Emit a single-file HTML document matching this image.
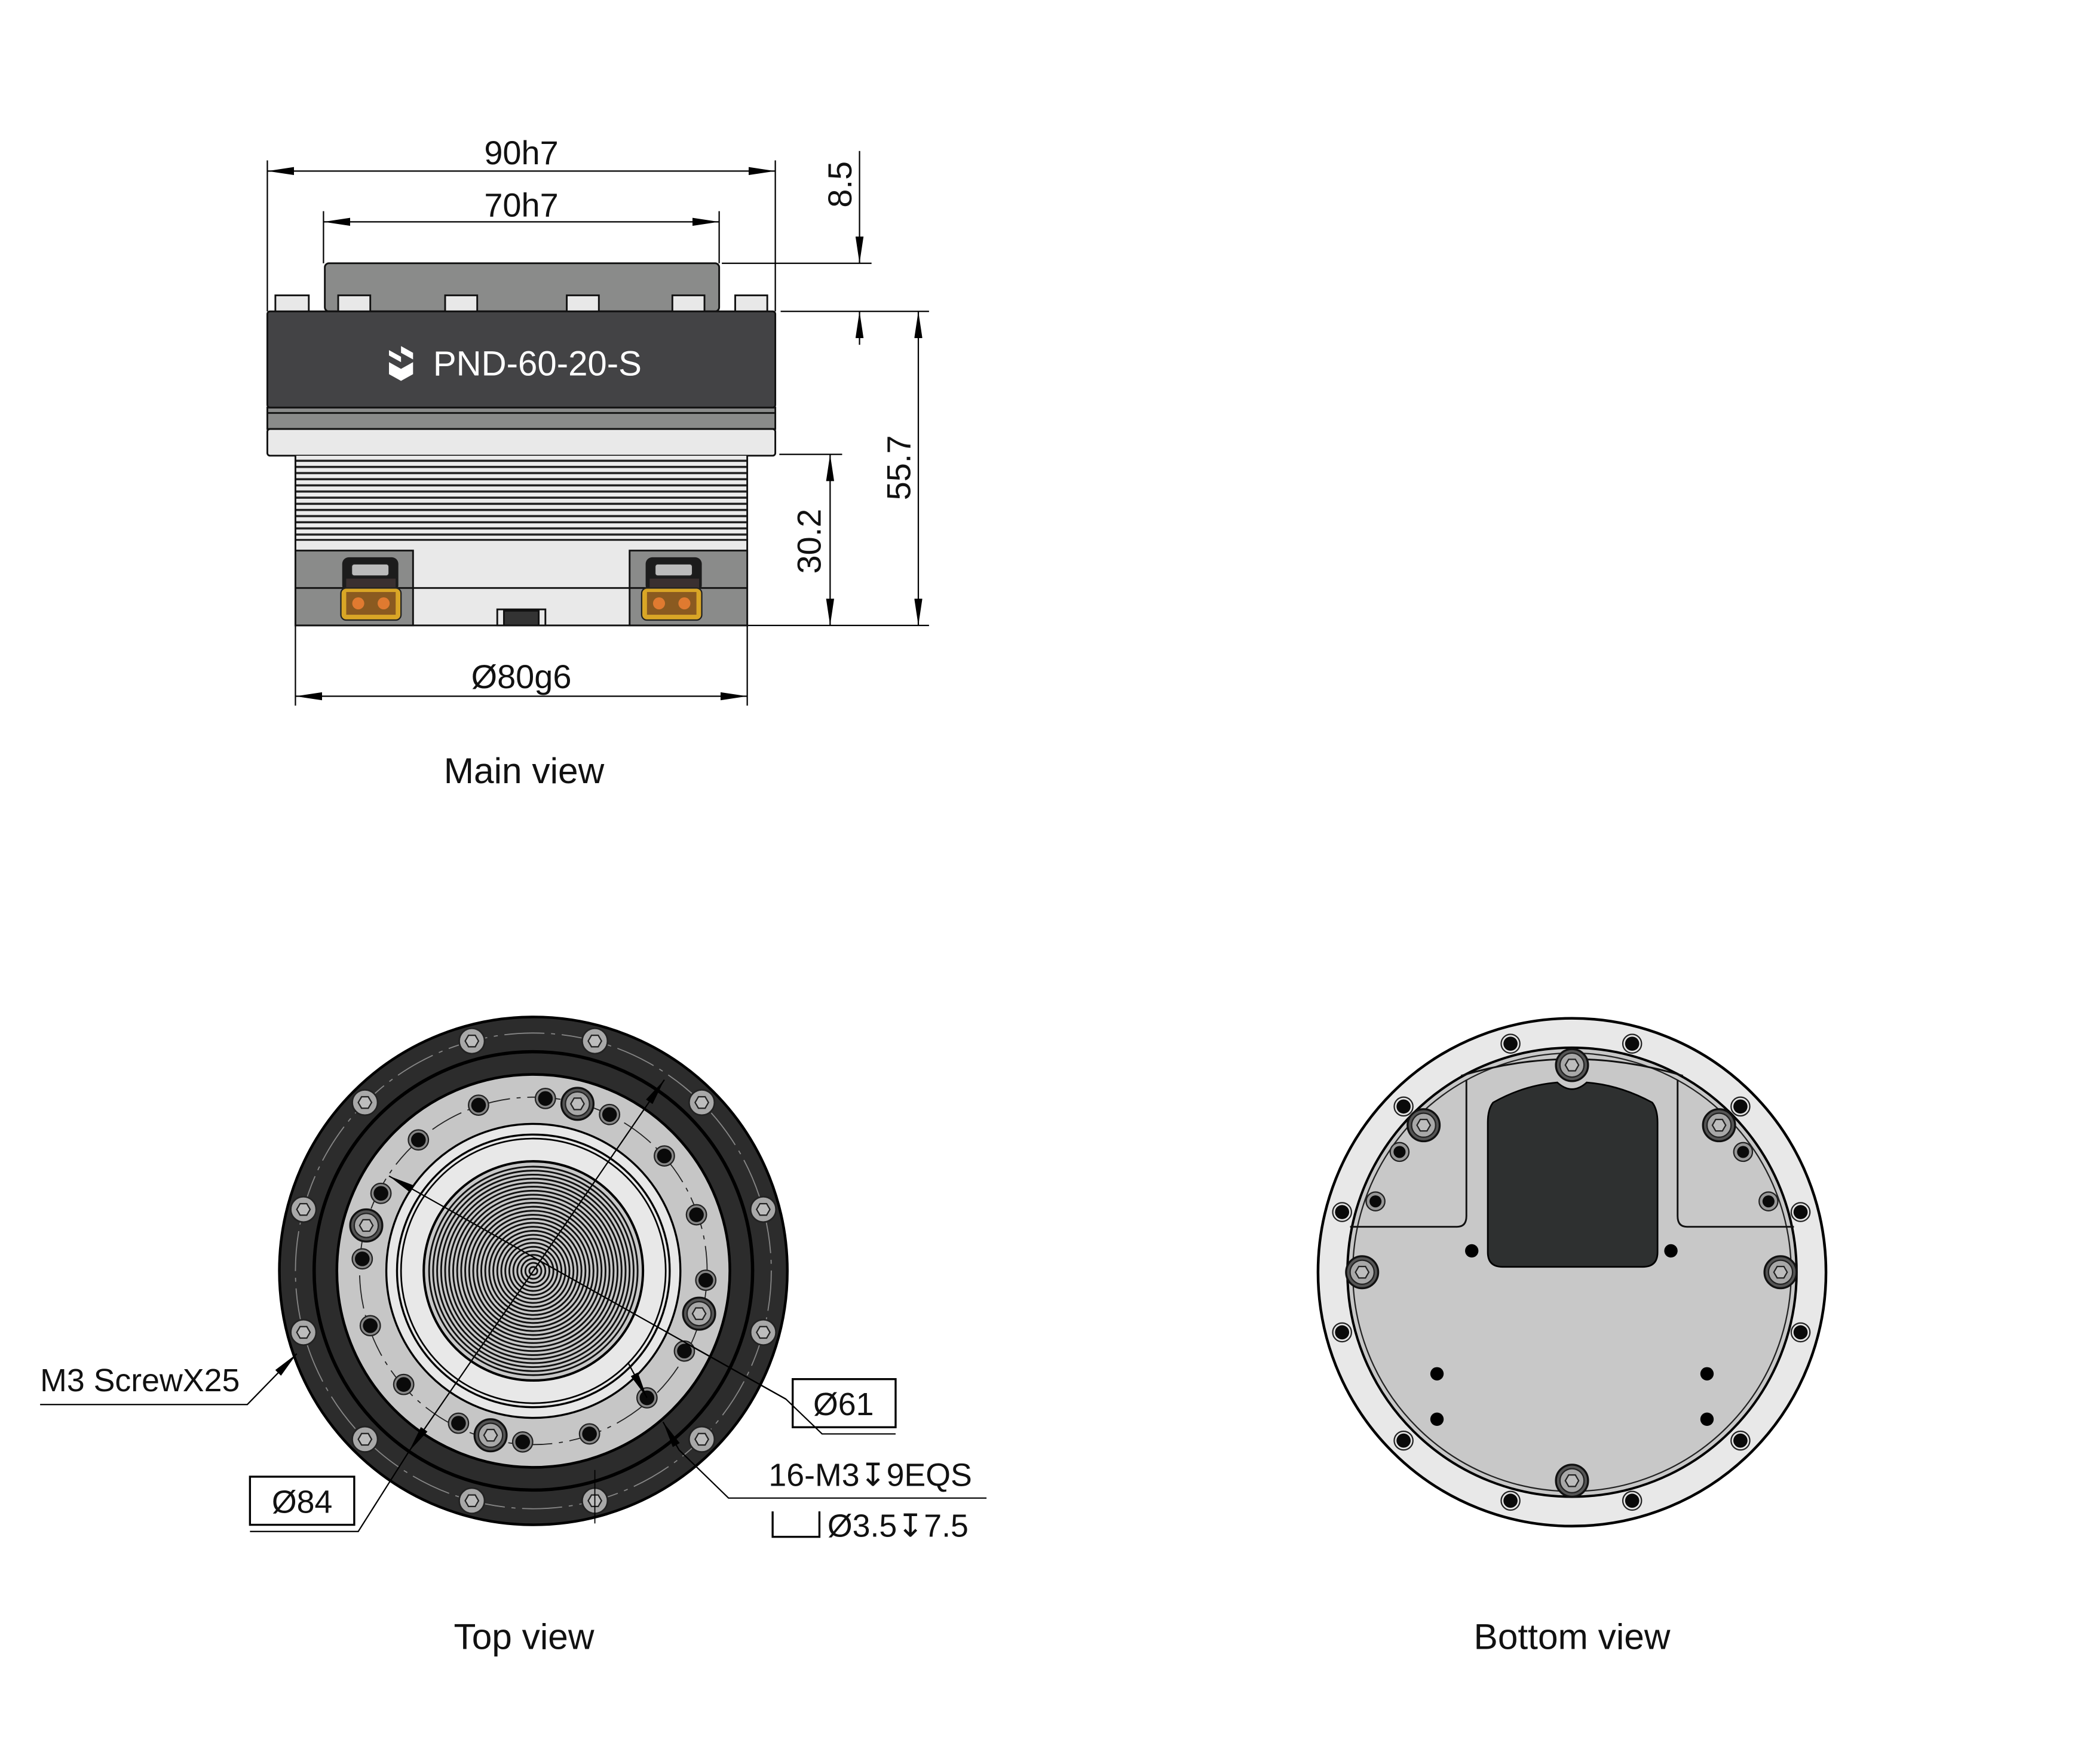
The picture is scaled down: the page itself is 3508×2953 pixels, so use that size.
<!DOCTYPE html>
<html><head><meta charset="utf-8"><style>
html,body{margin:0;padding:0;background:#fff;}
svg{display:block}
text{font-family:"Liberation Sans",sans-serif;fill:#111}
</style></head><body>
<svg width="3508" height="2953" viewBox="0 0 1568 1320" preserveAspectRatio="none" xmlns="http://www.w3.org/2000/svg">
<defs>
<marker id="a" viewBox="0 0 20 6" refX="20" refY="3" markerWidth="20" markerHeight="6" markerUnits="userSpaceOnUse" orient="auto-start-reverse"><path d="M0,0 L20,3 L0,6z" fill="#000"/></marker>
<pattern id="rib" x="0" y="341" width="10" height="4.6" patternUnits="userSpaceOnUse"><rect width="10" height="4.6" fill="#ececec"/><rect y="3" width="10" height="1.6" fill="#222"/></pattern>
<g id="bolt"><circle r="9.5" fill="#a8a8a8" stroke="#222" stroke-width="1.2"/><polygon points="5,0 2.5,4.3 -2.5,4.3 -5,0 -2.5,-4.3 2.5,-4.3" fill="#bdbdbd" stroke="#222" stroke-width="1"/></g>
<g id="bigbolt"><circle r="12" fill="#555" stroke="#111" stroke-width="1.5"/><circle r="9" fill="#a8a8a8" stroke="#222" stroke-width="1"/><polygon points="5,0 2.5,4.3 -2.5,4.3 -5,0 -2.5,-4.3 2.5,-4.3" fill="#bdbdbd" stroke="#222" stroke-width="1"/></g>
<g id="hole"><circle r="7.5" fill="#888" stroke="#222" stroke-width="1"/><circle r="5.5" fill="#0a0a0a"/></g>
<g id="bh"><circle r="7" fill="#e6e6e6" stroke="#222" stroke-width="1"/><circle r="5.3" fill="#0a0a0a"/></g>
<g id="bh2"><circle r="7" fill="#999" stroke="#222" stroke-width="1"/><circle r="4.5" fill="#0a0a0a"/></g>
</defs>

<!-- MAIN VIEW -->
<g stroke="#000" stroke-width="1" fill="none">
<line x1="200" y1="120" x2="200" y2="233"/><line x1="580" y1="120" x2="580" y2="233"/>
<line x1="242" y1="158" x2="242" y2="197"/><line x1="538" y1="158" x2="538" y2="197"/>
<line x1="200" y1="128" x2="580" y2="128" marker-start="url(#a)" marker-end="url(#a)"/>
<line x1="242" y1="166" x2="538" y2="166" marker-start="url(#a)" marker-end="url(#a)"/>
<line x1="540" y1="197" x2="652" y2="197"/><line x1="584" y1="233" x2="695" y2="233"/>
<line x1="583" y1="340" x2="630" y2="340"/><line x1="559" y1="468" x2="695" y2="468"/>
<line x1="643" y1="113" x2="643" y2="197" marker-end="url(#a)"/>
<line x1="643" y1="258" x2="643" y2="233" marker-end="url(#a)"/>
<line x1="687" y1="233" x2="687" y2="468" marker-start="url(#a)" marker-end="url(#a)"/>
<line x1="621" y1="340" x2="621" y2="468" marker-start="url(#a)" marker-end="url(#a)"/>
<line x1="221" y1="468" x2="221" y2="528"/><line x1="559" y1="468" x2="559" y2="528"/>
<line x1="221" y1="521" x2="559" y2="521" marker-start="url(#a)" marker-end="url(#a)"/>
</g>
<text x="390" y="123" font-size="25" text-anchor="middle">90h7</text>
<text x="390" y="162" font-size="25" text-anchor="middle">70h7</text>
<text transform="translate(637,138) rotate(-90)" font-size="25" text-anchor="middle">8.5</text>
<text transform="translate(681,350) rotate(-90)" font-size="25" text-anchor="middle">55.7</text>
<text transform="translate(614,405) rotate(-90)" font-size="25" text-anchor="middle">30.2</text>
<text x="390" y="515" font-size="25" text-anchor="middle">Ø80g6</text>
<text x="392" y="586" font-size="27" text-anchor="middle">Main view</text>

<g stroke="#111" stroke-width="1.3">
<rect x="243" y="197" width="295" height="36" rx="3" fill="#8a8b8a"/>
<rect x="206" y="221" width="25" height="13" fill="#e8e8e8"/>
<rect x="253" y="221" width="24" height="13" fill="#e8e8e8"/>
<rect x="333" y="221" width="24" height="13" fill="#e8e8e8"/>
<rect x="424" y="221" width="24" height="13" fill="#e8e8e8"/>
<rect x="503" y="221" width="24" height="13" fill="#e8e8e8"/>
<rect x="550" y="221" width="24" height="13" fill="#e8e8e8"/>
<rect x="200" y="233" width="380" height="72" rx="2" fill="#434345"/>
<rect x="200" y="305" width="380" height="16" fill="#8a8b8a"/>
<line x1="200" y1="309" x2="580" y2="309"/>
<rect x="200" y="321" width="380" height="20" rx="2" fill="#e9e9e9"/>
<rect x="221" y="341" width="338" height="63" fill="url(#rib)" stroke="none"/>
<line x1="221" y1="341" x2="221" y2="404"/><line x1="559" y1="341" x2="559" y2="404"/>
<rect x="221" y="404" width="338" height="64" fill="#e9e9e9"/>
<rect x="221" y="412" width="88" height="56" fill="#8a8b8a"/>
<rect x="471" y="412" width="88" height="56" fill="#8a8b8a"/>
<line x1="221" y1="440" x2="559" y2="440"/>
<rect x="372" y="456" width="36" height="12" fill="#e9e9e9"/>
<rect x="377" y="457" width="26" height="11" fill="#333"/>
</g>
<g>
<rect x="256" y="417" width="42" height="26" rx="5" fill="#1c1c1c"/>
<rect x="263" y="422" width="28" height="9" rx="2" fill="#bbb" stroke="#222" stroke-width="0.8"/>
<rect x="259" y="433" width="37" height="8" fill="#3a3030"/>
<rect x="255" y="440" width="45" height="24" rx="4" fill="#d9a626" stroke="#222" stroke-width="1"/>
<rect x="259" y="443" width="37" height="17" fill="#8a5a20"/>
<circle cx="268" cy="451.5" r="4.5" fill="#e07a30"/><circle cx="287" cy="451.5" r="4.5" fill="#e07a30"/>
<rect x="483" y="417" width="42" height="26" rx="5" fill="#1c1c1c"/>
<rect x="490" y="422" width="28" height="9" rx="2" fill="#bbb" stroke="#222" stroke-width="0.8"/>
<rect x="486" y="433" width="37" height="8" fill="#3a3030"/>
<rect x="480" y="440" width="45" height="24" rx="4" fill="#d9a626" stroke="#222" stroke-width="1"/>
<rect x="484" y="443" width="37" height="17" fill="#8a5a20"/>
<circle cx="493" cy="451.5" r="4.5" fill="#e07a30"/><circle cx="512" cy="451.5" r="4.5" fill="#e07a30"/>
</g>
<path d="M300,259 l9,5 v5 l-9,-5z M291,266 l9,5 v-4 l-9,-5z M291,271 l9,5 l9,-5 v9 l-9,5 l-9,-5z" fill="#fff"/>
<text x="324" y="281" font-size="26" fill="#fff" style="fill:#fff">PND-60-20-S</text>

<!-- TOP VIEW -->
<g>
<circle cx="399" cy="951" r="190" fill="#2c2c2c" stroke="#000" stroke-width="2"/>
<circle cx="399" cy="951" r="164" fill="none" stroke="#000" stroke-width="2.5"/>
<circle cx="399" cy="951" r="178" fill="none" stroke="#888" stroke-width="0.8" stroke-dasharray="30 5 3 5"/>
<circle cx="399" cy="951" r="147" fill="#c6c6c6" stroke="#000" stroke-width="2"/>
<circle cx="399" cy="951" r="130" fill="none" stroke="#222" stroke-width="0.8" stroke-dasharray="25 5 3 5"/>
<circle cx="399" cy="951" r="110" fill="#e8e8e8" stroke="#000" stroke-width="1.5"/>
<circle cx="399" cy="951" r="102" fill="none" stroke="#000" stroke-width="1.5"/>
<circle cx="399" cy="951" r="99" fill="none" stroke="#000" stroke-width="1.2"/>
<circle cx="399" cy="951" r="82" fill="#c8c8c8" stroke="#000" stroke-width="1.8"/>
<g fill="none" stroke="#111" stroke-width="1.3">
<circle cx="399" cy="951" r="78"/><circle cx="399" cy="951" r="75"/><circle cx="399" cy="951" r="72"/><circle cx="399" cy="951" r="69"/><circle cx="399" cy="951" r="66"/><circle cx="399" cy="951" r="63"/><circle cx="399" cy="951" r="60"/><circle cx="399" cy="951" r="57"/><circle cx="399" cy="951" r="54"/><circle cx="399" cy="951" r="51"/><circle cx="399" cy="951" r="48"/><circle cx="399" cy="951" r="45"/><circle cx="399" cy="951" r="42"/><circle cx="399" cy="951" r="39"/><circle cx="399" cy="951" r="36"/><circle cx="399" cy="951" r="33"/><circle cx="399" cy="951" r="30"/><circle cx="399" cy="951" r="27"/><circle cx="399" cy="951" r="24"/><circle cx="399" cy="951" r="21"/><circle cx="399" cy="951" r="18"/><circle cx="399" cy="951" r="15"/><circle cx="399" cy="951" r="12"/><circle cx="399" cy="951" r="9"/><circle cx="399" cy="951" r="6"/><circle cx="399" cy="951" r="3"/>
</g>
<use href="#bolt" x="571" y="905"/><use href="#bolt" x="525" y="825"/><use href="#bolt" x="445" y="779"/><use href="#bolt" x="353" y="779"/><use href="#bolt" x="273" y="825"/><use href="#bolt" x="227" y="905"/><use href="#bolt" x="227" y="997"/><use href="#bolt" x="273" y="1077"/><use href="#bolt" x="353" y="1123"/><use href="#bolt" x="445" y="1123"/><use href="#bolt" x="525" y="1077"/><use href="#bolt" x="571" y="997"/>
<use href="#hole" x="313" y="853"/><use href="#hole" x="285" y="893"/><use href="#hole" x="271" y="942"/><use href="#hole" x="277" y="992"/><use href="#hole" x="302" y="1036"/><use href="#hole" x="343" y="1065"/><use href="#hole" x="391" y="1079"/><use href="#hole" x="441" y="1073"/><use href="#hole" x="484" y="1046"/><use href="#hole" x="512" y="1011"/><use href="#hole" x="528" y="958"/><use href="#hole" x="521" y="909"/><use href="#hole" x="497" y="865"/><use href="#hole" x="456" y="834"/><use href="#hole" x="408" y="822"/><use href="#hole" x="358" y="827"/>
<use href="#bigbolt" x="432" y="826"/><use href="#bigbolt" x="274" y="917"/><use href="#bigbolt" x="523" y="983"/><use href="#bigbolt" x="367" y="1074"/>
</g>
<g stroke="#000" stroke-width="1" fill="none">
<line x1="291" y1="880" x2="588" y2="1047" marker-start="url(#a)"/>
<line x1="513" y1="1005" x2="588" y2="1047"/>
<polyline points="588,1047 615,1073 670,1073"/>
<line x1="497" y1="808" x2="399" y2="951" marker-start="url(#a)"/>
<line x1="399" y1="951" x2="306" y2="1086" marker-end="url(#a)"/>
<polyline points="306,1086 268,1146 187,1146"/>
<polyline points="30,1051 185,1051 222,1013" marker-end="url(#a)"/>
<line x1="470" y1="1020" x2="484" y2="1046" marker-end="url(#a)"/>
<polyline points="508,1085 545,1121 738,1121"/>
<line x1="508" y1="1085" x2="496" y2="1064" marker-end="url(#a)"/>
<rect x="187" y="1105" width="78" height="36" stroke-width="1.5"/>
<rect x="593" y="1032" width="77" height="36" stroke-width="1.5"/>
<polyline points="578,1131 578,1150 613,1150 613,1131" stroke-width="1.5"/>
<line x1="445" y1="1100" x2="445" y2="1140" stroke-width="0.8"/>
</g>
<text x="30" y="1041" font-size="24">M3 ScrewX25</text>
<text x="226" y="1132" font-size="24" text-anchor="middle">Ø84</text>
<text x="631" y="1059" font-size="24" text-anchor="middle">Ø61</text>
<text x="575" y="1112" font-size="24">16-M3↧9EQS</text>
<text x="619" y="1150" font-size="24">Ø3.5↧7.5</text>
<text x="392" y="1234" font-size="27" text-anchor="middle">Top view</text>

<!-- BOTTOM VIEW -->
<g>
<circle cx="1176" cy="952" r="190" fill="#e8e8e8" stroke="#000" stroke-width="2"/>
<circle cx="1176" cy="952" r="168" fill="#c8c8c8" stroke="#000" stroke-width="1.8"/>
<circle cx="1176" cy="952" r="164" fill="none" stroke="#222" stroke-width="1"/>
<g fill="none" stroke="#111" stroke-width="1.3">
<path d="M1010,918 L1090,918 Q1097,918 1097,910 L1097,808"/>
<path d="M1342,918 L1262,918 Q1255,918 1255,910 L1255,808"/>
<path d="M1093,805 Q1176,780 1259,805"/>
</g>
<path d="M1117,825 Q1140,812 1165,810 Q1176,820 1187,810 Q1212,812 1236,825 Q1240,830 1240,840 L1240,937 Q1240,948 1229,948 L1124,948 Q1113,948 1113,937 L1113,840 Q1113,830 1117,825z" fill="#2e3030" stroke="#000" stroke-width="1.2"/>
<use href="#bigbolt" x="1176" y="797"/><use href="#bigbolt" x="1176" y="1108"/><use href="#bigbolt" x="1019" y="952"/><use href="#bigbolt" x="1332" y="952"/><use href="#bigbolt" x="1065" y="842"/><use href="#bigbolt" x="1286" y="842"/>
<use href="#bh" x="1130" y="781"/><use href="#bh" x="1221" y="781"/><use href="#bh" x="1050" y="828"/><use href="#bh" x="1302" y="828"/><use href="#bh" x="1004" y="907"/><use href="#bh" x="1347" y="907"/><use href="#bh" x="1004" y="997"/><use href="#bh" x="1347" y="997"/><use href="#bh" x="1050" y="1078"/><use href="#bh" x="1302" y="1078"/><use href="#bh" x="1130" y="1123"/><use href="#bh" x="1221" y="1123"/>
<use href="#bh2" x="1047" y="862"/><use href="#bh2" x="1304" y="862"/><use href="#bh2" x="1029" y="899"/><use href="#bh2" x="1323" y="899"/>
<circle cx="1101" cy="936" r="5" fill="#000"/><circle cx="1250" cy="936" r="5" fill="#000"/>
<circle cx="1075" cy="1028" r="5" fill="#000"/><circle cx="1277" cy="1028" r="5" fill="#000"/>
<circle cx="1075" cy="1062" r="5" fill="#000"/><circle cx="1277" cy="1062" r="5" fill="#000"/>
</g>
<text x="1176" y="1234" font-size="27" text-anchor="middle">Bottom view</text>
</svg>
</body></html>
